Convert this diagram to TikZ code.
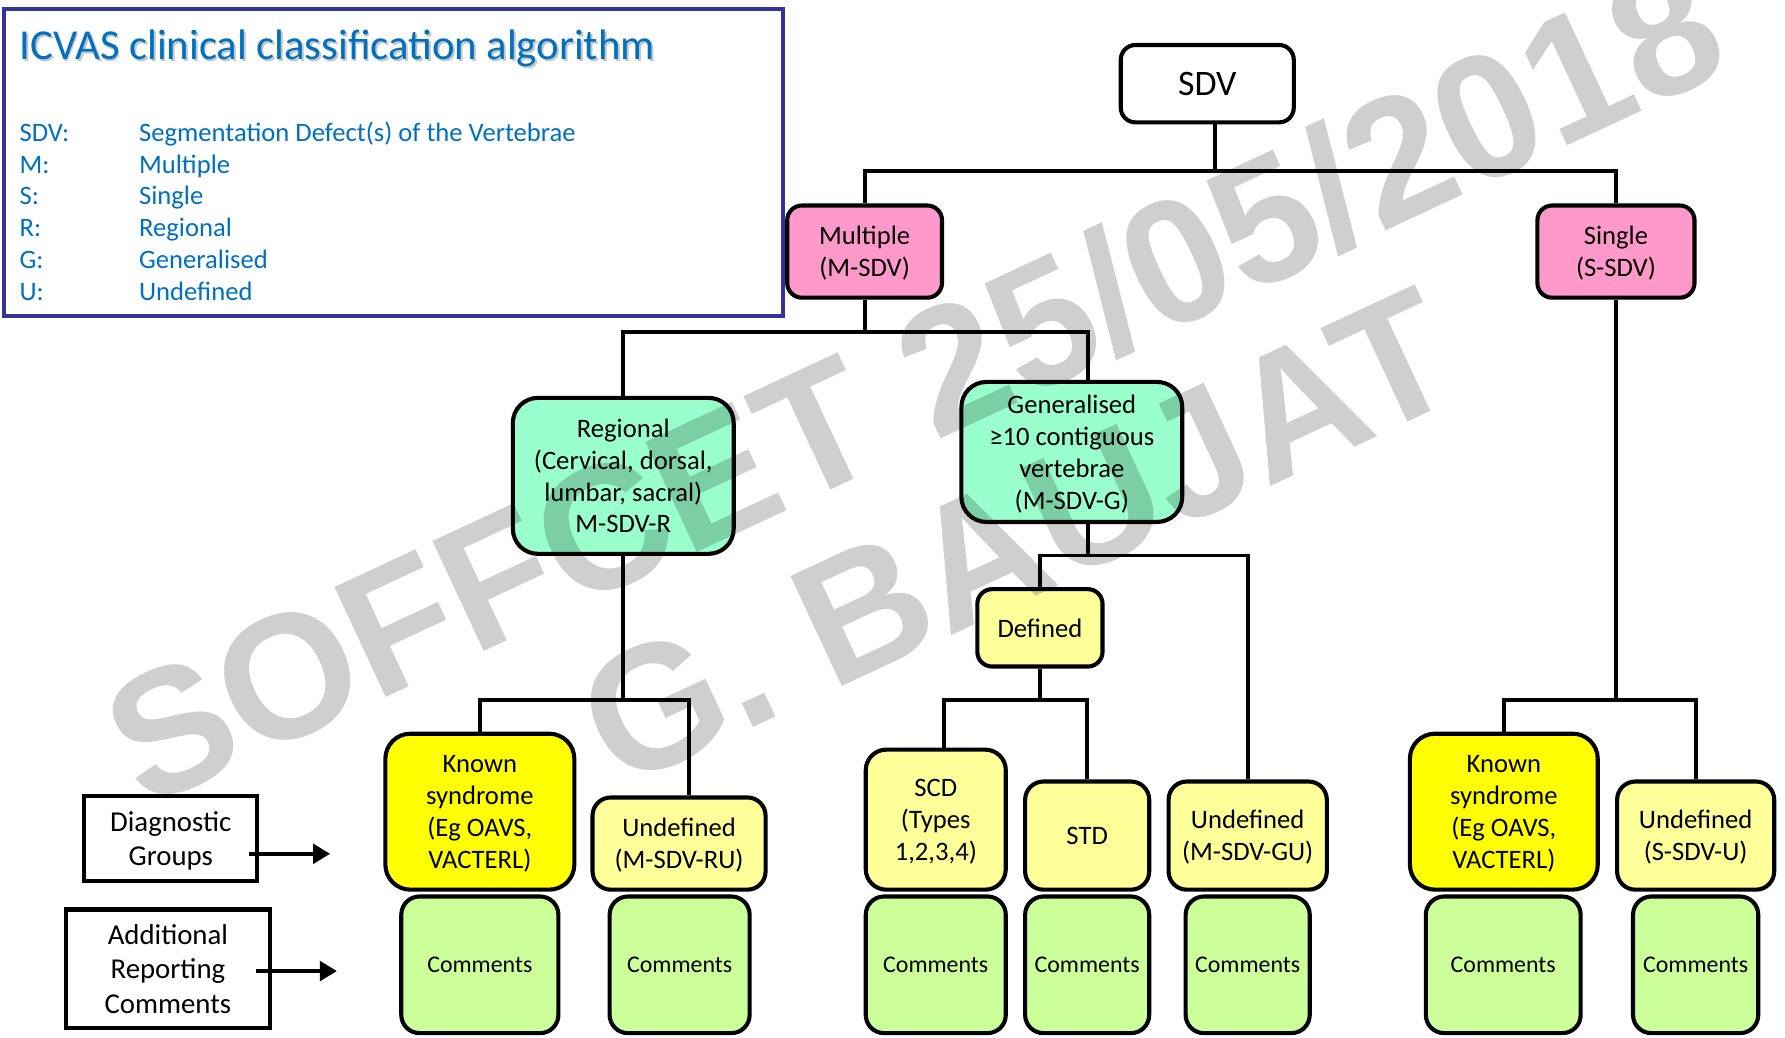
\documentclass[tikz,border=0pt]{standalone}
\usepackage{fontspec}
\setmainfont{Carlito}
\newfontfamily\wmfont{Liberation Sans}
\usetikzlibrary{arrows.meta,calc}
\definecolor{pinkbox}{HTML}{FF99CC}
\definecolor{tealbox}{HTML}{99FFCC}
\definecolor{paleyellow}{HTML}{FFFF99}
\definecolor{brightyellow}{HTML}{FFFF00}
\definecolor{limebox}{HTML}{CCFF99}
\definecolor{legframe}{HTML}{333399}
\definecolor{legtext}{HTML}{0070C0}
\begin{document}
\begin{tikzpicture}[x=1pt,y=-1pt,
  box/.style={draw=black, line width=3.6pt, rounded corners=13pt, align=center,
    inner sep=0pt, text depth=-7pt, font=\fontsize{23.4}{28}\selectfont},
  combox/.style={box, fill=limebox, rounded corners=16pt, minimum height=120,
    font=\fontsize{21}{25}\selectfont},
  keybox/.style={draw=black, line width=3.8pt, align=center, inner sep=0pt,
    text depth=-3pt, fill=white, font=\fontsize{25.3}{30.5}\selectfont},
  conn/.style={draw=black, line width=3.4pt},
  arr/.style={draw=black, line width=4pt, -{Triangle[length=15pt,width=17pt]}},
  legabbr/.style={anchor=base west, inner sep=0pt, text=legtext,
    font=\fontsize{23.4}{28}\selectfont},
  stampfont/.style={font=\wmfont\bfseries\fontsize{155}{155}\selectfont,
    text=black, text opacity=0.19, inner sep=0pt}
]
\useasboundingbox (0,0) rectangle (1568,911);
\fill[white] (0,0) rectangle (1568,911);

% ---- legend panel ----
\node[draw=legframe, line width=3.5pt, fill=white, minimum width=684, minimum height=270,
  inner sep=0pt, anchor=north west] (legend) at (2,6) {};
\node[anchor=base west, inner sep=0pt, text=black!45, opacity=0.5,
  font=\fontsize{37.5}{44}\selectfont] (titleshadow) at (18.6,53.6)
  {ICVAS clinical classification algorithm};
\node[anchor=base west, inner sep=0pt, text=legtext,
  font=\fontsize{37.5}{44}\selectfont] (title) at (17,52)
  {ICVAS clinical classification algorithm};
\foreach \ab/\txt/\yy [count=\i] in {SDV:/Segmentation Defect(s) of the Vertebrae/116,
    M:/Multiple/144, S:/Single/172, R:/Regional/200, G:/Generalised/228, U:/Undefined/256}{
  \node[legabbr] (abbr\i) at (17,\yy+8) {\ab};
  \node[legabbr] (def\i) at (122,\yy+8) {\txt};
}

% ---- comment boxes (bottom row) ----
\node[combox, minimum width=138] (c1) at (421.5,847.5) {Comments};
\node[combox, minimum width=123] (c2) at (597,847.5) {Comments};
\node[combox, minimum width=123] (c3) at (822,847.5) {Comments};
\node[combox, minimum width=109] (c4) at (955,847.5) {Comments};
\node[combox, minimum width=109] (c5) at (1096,847.5) {Comments};
\node[combox, minimum width=136] (c6) at (1320.5,847.5) {Comments};
\node[combox, minimum width=110] (c7) at (1489.5,847.5) {Comments};

% ---- classification tree ----
\node[box, fill=white, font=\fontsize{31.5}{36}\selectfont,
  minimum width=152, minimum height=68] (sdv) at (1060.5,73.5) {SDV};
\node[box, fill=pinkbox, minimum width=136, minimum height=81] (msdv) at (759.5,221) {Multiple\\(M-SDV)};
\node[box, fill=pinkbox, minimum width=138, minimum height=81] (ssdv) at (1419.5,221) {Single\\(S-SDV)};
\node[box, fill=tealbox, rounded corners=22pt, minimum width=194, minimum height=137] (reg) at (547.5,418)
  {Regional\\(Cervical, dorsal,\\lumbar, sacral)\\M-SDV-R};
\node[box, fill=tealbox, rounded corners=22pt, minimum width=194, minimum height=123] (gen) at (941.5,397)
  {Generalised\\≥10 contiguous\\vertebrae\\(M-SDV-G)};
\node[box, fill=paleyellow, minimum width=110, minimum height=68] (defd) at (913.5,551.5) {Defined};
\node[box, fill=brightyellow, rounded corners=22pt, minimum width=166, minimum height=137] (known1) at (421.5,713)
  {Known\\syndrome\\(Eg OAVS,\\VACTERL)};
\node[box, fill=paleyellow, rounded corners=16pt, minimum width=152, minimum height=81] (undru) at (596.5,741)
  {Undefined\\(M-SDV-RU)};
\node[box, fill=paleyellow, rounded corners=18pt, minimum width=123, minimum height=123] (scd) at (822,720)
  {SCD\\(Types\\1,2,3,4)};
\node[box, fill=paleyellow, rounded corners=16pt, minimum width=109, minimum height=95] (std) at (955,734) {STD};
\node[box, fill=paleyellow, rounded corners=16pt, minimum width=139, minimum height=95] (undgu) at (1096,734)
  {Undefined\\(M-SDV-GU)};
\node[box, fill=brightyellow, rounded corners=22pt, minimum width=165, minimum height=137] (known2) at (1321,713)
  {Known\\syndrome\\(Eg OAVS,\\VACTERL)};
\node[box, fill=paleyellow, rounded corners=16pt, minimum width=138, minimum height=95] (unds) at (1489.5,734)
  {Undefined\\(S-SDV-U)};

% ---- key boxes with pointers ----
\node[keybox, minimum width=152, minimum height=75] (diag) at (150,736.5) {Diagnostic\\Groups};
\node[keybox, minimum width=179, minimum height=104] (addrep) at (147.5,851) {Additional\\Reporting\\Comments};
\coordinate (diagtip) at (290,750);
\coordinate (addtip) at (296,853);
\draw[arr] ([shift={(-9,13.5)}]diag.east) -- (diagtip);
\draw[arr] ([shift={(-14,2)}]addrep.east) -- (addtip);

% ---- connector levels and off-centre attachment points ----
\coordinate (L1) at (0,150);
\coordinate (L2) at (0,292);
\coordinate (L3) at (0,488);
\coordinate (L4) at (0,615);
\coordinate (sdv-out) at ([xshift=7]sdv.south);
\coordinate (gen-in) at ([xshift=14]gen.north);
\coordinate (gen-out) at ([xshift=14]gen.south);
\coordinate (undru-in) at ([xshift=8.5]undru.north);
\coordinate (scd-in) at ([xshift=7]scd.north);

\draw[conn] (sdv-out) -- (sdv-out |- L1);
\draw[conn] (msdv.north) |- (L1 -| ssdv.north) -- (ssdv.north);

\draw[conn] (msdv.south) -- (msdv.south |- L2);
\draw[conn] (reg.north) |- (L2 -| gen-in) -- (gen-in);

\draw[conn] (gen-out) -- (gen-out |- L3);
\draw[conn] (defd.north) |- (L3 -| undgu.north) -- (undgu.north);

\draw[conn] (reg.south) -- (reg.south |- L4);
\draw[conn] (known1.north) |- (L4 -| undru-in) -- (undru-in);

\draw[conn] (defd.south) -- (defd.south |- L4);
\draw[conn] (scd-in) |- (L4 -| std.north) -- (std.north);

\draw[conn] (ssdv.south) -- (ssdv.south |- L4);
\draw[conn] (known2.north) |- (L4 -| unds.north) -- (unds.north);

% ---- overlaid stamp text ----
\node[stampfont, rotate=25] (stamp1) at (803,336) {SOFFCET 25/05/2018};
\node[stampfont, rotate=25] (stamp2) at (894,472) {G. BAUJAT};
\end{tikzpicture}
\end{document}
